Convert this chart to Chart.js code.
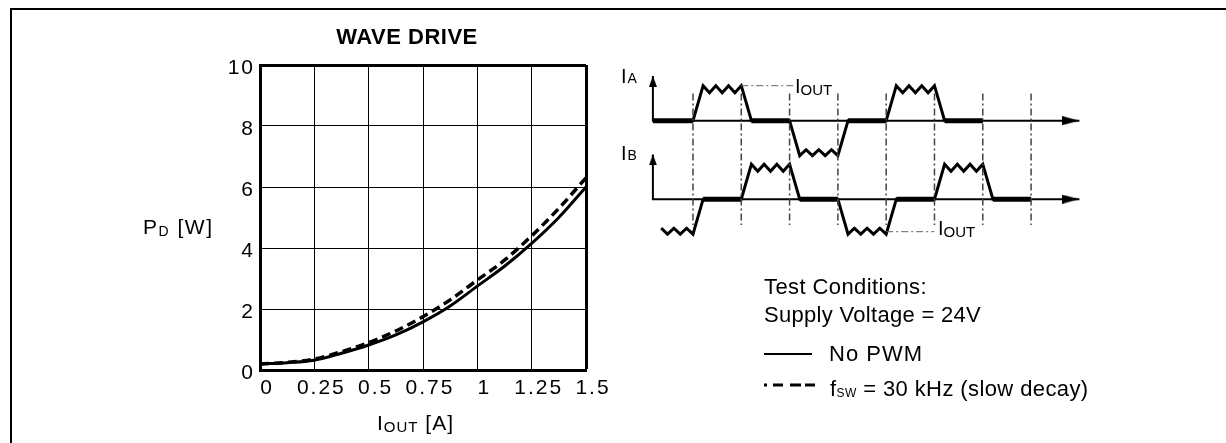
<!DOCTYPE html>
<html><head><meta charset="utf-8">
<script src="https://cdn.jsdelivr.net/npm/chart.js@4.4.1/dist/chart.umd.min.js"></script>
<style>
html,body{margin:0;padding:0;background:#fff;}
body{width:1226px;height:443px;position:relative;overflow:hidden;font-family:'Liberation Sans',Arial,Helvetica,sans-serif;}
#main{position:absolute;left:0;top:0;}
#wave{position:absolute;left:600px;top:60px;}
.frame{position:absolute;left:10px;top:8px;width:1300px;height:500px;border-top:2px solid #000;border-left:2px solid #000;}
.t{position:absolute;line-height:1;white-space:nowrap;color:#000;}
.s{font-size:14px;vertical-align:-2px;line-height:0;}
</style></head><body>
<div class="frame"></div>
<canvas id="main" width="1226" height="443"></canvas>
<canvas id="wave" width="500" height="190"></canvas>

<div class="t" style="left:307px;width:200px;text-align:center;top:26px;font-size:22px;font-weight:bold;letter-spacing:0.5px">WAVE DRIVE</div>
<div class="t" style="left:143px;top:216px;font-size:21px;letter-spacing:1.5px">P<span class="s" style="font-size:14px">D</span> [W]</div>
<div class="t" style="left:377px;top:412px;font-size:21px;letter-spacing:1px">I<span class="s" style="font-size:15px">OUT</span> [A]</div>

<div class="t" style="left:621px;top:66px;font-size:20px">I<span class="s" style="font-size:14px;vertical-align:0;margin-left:1px">A</span></div>
<div class="t" style="left:621px;top:143px;font-size:20px">I<span class="s" style="font-size:14px;vertical-align:0;margin-left:1px">B</span></div>
<div class="t" style="left:795px;top:76px;font-size:20px">I<span class="s" style="font-size:15px">OUT</span></div>
<div class="t" style="left:938px;top:218px;font-size:20px">I<span class="s" style="font-size:15px">OUT</span></div>

<div class="t" style="left:764px;top:276px;font-size:22px;letter-spacing:0.4px">Test Conditions:</div>
<div class="t" style="left:764px;top:304px;font-size:22px;letter-spacing:0.3px">Supply Voltage = 24V</div>
<div style="position:absolute;left:764px;top:353px;width:48px;height:2px;background:#000"></div>
<div class="t" style="left:829px;top:343px;font-size:22px;letter-spacing:1px">No PWM</div>
<svg style="position:absolute;left:764px;top:380px" width="54" height="10"><line x1="0" y1="5" x2="52" y2="5" stroke="#000" stroke-width="3" stroke-dasharray="3,6,10,7,11,4,10"/></svg>
<div class="t" style="left:830px;top:378px;font-size:22px;letter-spacing:0.4px">f<span class="s" style="font-size:12px;vertical-align:-1px">SW</span> = 30 kHz (slow decay)</div>

<script>
// ---------- Power dissipation data ----------
const currentA   = [0, 0.125, 0.25, 0.375, 0.5, 0.625, 0.75, 0.875, 1.0, 1.125, 1.25, 1.375, 1.5];
const pdNoPwm    = [0.2, 0.24, 0.32, 0.55, 0.82, 1.15, 1.58, 2.1, 2.75, 3.4, 4.15, 5.0, 6.0];
const pdPwm30k   = [0.2, 0.25, 0.36, 0.6, 0.9, 1.28, 1.75, 2.3, 2.95, 3.6, 4.4, 5.3, 6.3];
const xTickVals  = [0, 0.25, 0.5, 0.75, 1, 1.25, 1.5];
const xTickLabels= ['0', '0.25', '0.5', '0.75', '1', '1.25', '1.5'];
const yTickVals  = [0, 2, 4, 6, 8, 10];
const yTickLabels= ['0', '2', '4', '6', '8', '10'];

// ---------- Wave-drive timing diagram (time in steps, level in units of IOUT) ----------
const iaWave = [[-0.83,0],[0,0],[0.21,1],[0.342,0.8],[0.473,1],[0.605,0.8],[0.737,1],[0.868,0.8],[1,1],[1.21,0],
  [2,0],[2.21,-1],[2.342,-0.83],[2.473,-1],[2.605,-0.83],[2.737,-1],[2.868,-0.83],[3,-1],[3.21,0],
  [4,0],[4.21,1],[4.342,0.8],[4.473,1],[4.605,0.8],[4.737,1],[4.868,0.8],[5,1],[5.21,0],[6,0]];
const ibWave = [[-0.658,-0.83],[-0.526,-1],[-0.395,-0.83],[-0.263,-1],[-0.132,-0.83],[0,-1],[0.21,0],
  [1,0],[1.21,1],[1.342,0.8],[1.473,1],[1.605,0.8],[1.737,1],[1.868,0.8],[2,1],[2.21,0],
  [3,0],[3.21,-1],[3.342,-0.83],[3.473,-1],[3.605,-0.83],[3.737,-1],[3.868,-0.83],[4,-1],[4.21,0],
  [5,0],[5.21,1],[5.342,0.8],[5.473,1],[5.605,0.8],[5.737,1],[5.868,0.8],[6,1],[6.21,0],[7,0]];
const iaFlat = [[-0.83,0],[1.21,2],[3.21,4],[5.21,6]];
const ibFlat = [[0.21,1],[2.21,3],[4.21,5],[6.21,7]];
const stepTimes = [0,1,2,3,4,5,6,7];
const guideSpan = [0.78,-2.98];           // in IA units
const axisStart = -0.83, axisEnd = 8.0, axisTop = 1.28;
const iaIout = [[1,1],[2.12,1]];
const ibIout = [[4,-0.93],[5.0,-0.93]];

// ---------- main chart ----------
const spacing = {id:'spacing',
  beforeDraw(c){ c.ctx.letterSpacing = '2px'; },
  afterDraw(c){ c.ctx.letterSpacing = '0px'; }};

const pts = (xs, ys) => xs.map((x,i)=>({x, y: ys[i]}));
const font = {family:"'Liberation Sans', Arial, sans-serif", size:21};

new Chart(document.getElementById('main'), {
  type:'scatter',
  data:{datasets:[
    {label:'No PWM', data:pts(currentA,pdNoPwm), showLine:true, borderColor:'#000', borderWidth:3, pointRadius:0, cubicInterpolationMode:'monotone'},
    {label:'fsw = 30 kHz (slow decay)', data:pts(currentA,pdPwm30k), showLine:true, borderColor:'#000', borderWidth:3.5, borderDash:[9,5], pointRadius:0, cubicInterpolationMode:'monotone'}
  ]},
  options:{
    responsive:false, animation:false, events:[],
    layout:{autoPadding:false, padding:{left:215, top:65, right:640, bottom:43}},
    plugins:{legend:{display:false}, tooltip:{enabled:false}},
    scales:{
      x:{type:'linear', min:0, max:1.5,
        afterBuildTicks:s=>{ s.ticks = xTickVals.map(v=>({value:v})); },
        afterFit:s=>{ s.height = 30; },
        ticks:{callback:(v,i)=>xTickLabels[i], color:'#000', font, padding:6, labelOffset:7, maxRotation:0, autoSkip:false},
        grid:{color:'#000', lineWidth:c=> (c.tick && c.tick.value===1.5) ? 3 : 1, drawTicks:false},
        border:{display:true, color:'#000', width:3}},
      y:{type:'linear', min:0, max:10,
        afterBuildTicks:s=>{ s.ticks = yTickVals.map(v=>({value:v})); },
        afterFit:s=>{ s.width = 45; },
        ticks:{callback:(v,i)=>yTickLabels[i], color:'#000', font, padding:5, labelOffset:3, autoSkip:false},
        grid:{color:'#000', lineWidth:c=> (c.tick && c.tick.value===10) ? 3 : 1, drawTicks:false},
        border:{display:true, color:'#000', width:3}}
    }
  },
  plugins:[spacing]
});

// ---------- wave chart ----------
function arrowHead(w, len){
  const c = document.createElement('canvas'); c.width = w; c.height = len*2;
  const g = c.getContext('2d'); g.fillStyle = '#000';
  g.beginPath(); g.moveTo(w/2, len); g.lineTo(w, 2*len); g.lineTo(0, 2*len); g.closePath(); g.fill();
  return c;
}
const upHead = arrowHead(8, 11), rightHead = arrowHead(9, 17);
const toXY = a => a.map(p=>({x:p[0], y:p[1]}));
const segs = list => { const out=[]; list.forEach(s=>{ out.push({x:s[0],y:0},{x:s[1],y:0},{x:s[1],y:null}); }); return out; };
const guides = []; stepTimes.forEach(t=>{ guides.push({x:t,y:guideSpan[0]},{x:t,y:guideSpan[1]},{x:t,y:null}); });
const axisLine = [{x:axisStart,y:axisTop},{x:axisStart,y:0},{x:axisEnd,y:0}];
const heads = [{x:axisStart,y:axisTop},{x:axisEnd,y:0}];

const line = (data, yAxisID, extra) => Object.assign({data, yAxisID, showLine:true, spanGaps:false, borderColor:'#000', pointRadius:0, tension:0}, extra);

new Chart(document.getElementById('wave'), {
  type:'scatter',
  data:{datasets:[
    line(guides,'yA',{borderColor:'#444', borderWidth:1.5, borderDash:[7,3,2,3]}),
    line(toXY(iaIout),'yA',{borderColor:'#666', borderWidth:1, borderDash:[7,3,2,3]}),
    line(toXY(ibIout),'yB',{borderColor:'#666', borderWidth:1, borderDash:[7,3,2,3]}),
    line(axisLine,'yA',{borderWidth:2}),
    line(axisLine,'yB',{borderWidth:2}),
    line(segs(iaFlat),'yA',{borderWidth:5}),
    line(segs(ibFlat),'yB',{borderWidth:5}),
    line(toXY(iaWave),'yA',{borderWidth:3, borderJoinStyle:'miter'}),
    line(toXY(ibWave),'yB',{borderWidth:3, borderJoinStyle:'miter'}),
    {data:heads, yAxisID:'yA', showLine:false, pointRadius:6, pointStyle:[upHead,rightHead], pointRotation:[0,90]},
    {data:heads, yAxisID:'yB', showLine:false, pointRadius:6, pointStyle:[upHead,rightHead], pointRotation:[0,90]}
  ]},
  options:{
    responsive:false, animation:false, events:[],
    layout:{autoPadding:false, padding:0},
    plugins:{legend:{display:false}, tooltip:{enabled:false}},
    scales:{
      x:{type:'linear', display:false, min:-1.925, max:8.427},
      yA:{type:'linear', display:false, min:-3.694, max:1.734},
      yB:{type:'linear', display:false, min:-1.454, max:3.98}
    }
  }
});
</script>
</body></html>
